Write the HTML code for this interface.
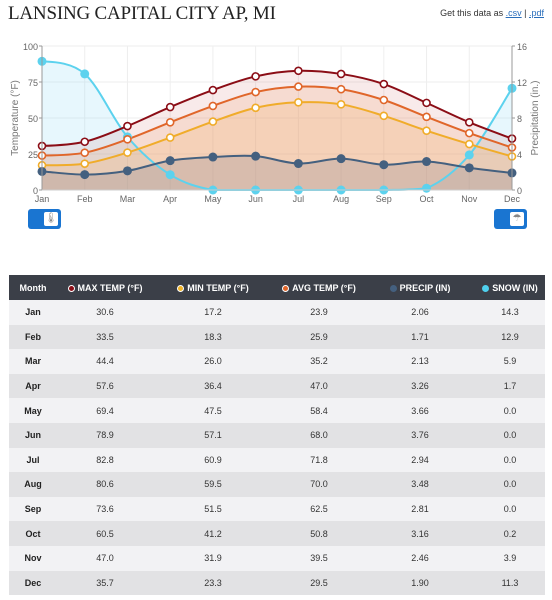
<!DOCTYPE html>
<html><head><meta charset="utf-8">
<style>
body{margin:0;width:552px;height:600px;background:#fff;font-family:"Liberation Sans",sans-serif;overflow:hidden;position:relative}
#title{position:absolute;left:8px;top:3px;font-family:"Liberation Serif",serif;font-size:19px;color:#222;letter-spacing:-0.2px}
#getdata{position:absolute;right:8px;top:8px;font-size:9px;color:#333}
#getdata a{color:#2a6ebb;text-decoration:underline}
svg{position:absolute;left:0;top:0}
.btn{position:absolute;top:209px;width:33px;height:20px;background:#1a75d1;border-radius:3px}
.btn i{position:absolute;right:3px;top:3px;width:14px;height:14px;background:#fff;border-radius:2px;font-style:normal;font-size:10px;color:#888;text-align:center;line-height:14px}
table{position:absolute;left:9px;top:275px;width:536px;border-collapse:collapse;font-size:9px;table-layout:fixed}
th{background:#3b3f48;color:#fff;height:25px;font-weight:bold;text-align:center;padding:0;white-space:nowrap}
td{height:24.6px;text-align:center;padding:0;color:#333}
td.m{font-weight:bold;color:#222}
tr:nth-child(odd) td{background:#f2f2f4}
tr:nth-child(even) td{background:#e2e2e4}
.dot{display:inline-block;width:7px;height:7px;border-radius:50%;margin-right:3px;vertical-align:-1px}
</style></head><body>
<div id="title">LANSING CAPITAL CITY AP, MI</div>
<div id="getdata">Get this data as <a>.csv</a> | <a>.pdf</a></div>
<svg id="chart" width="552" height="240"></svg>
<div class="btn" style="left:28px"><i>🌡</i></div>
<div class="btn" style="left:494px"><i>☂</i></div>
<table>
<colgroup><col style="width:48px"><col style="width:96px"><col style="width:120px"><col style="width:92px"><col style="width:110px"><col style="width:70px"></colgroup>
<thead><tr>
<th>Month</th>
<th><span class="dot" style="background:#8b0d16;border:1px solid #fff;width:5px;height:5px"></span>MAX TEMP (°F)</th>
<th><span class="dot" style="background:#f0b429;border:1px solid #fff;width:5px;height:5px"></span>MIN TEMP (°F)</th>
<th><span class="dot" style="background:#e0662a;border:1px solid #fff;width:5px;height:5px"></span>AVG TEMP (°F)</th>
<th><span class="dot" style="background:#44607f"></span>PRECIP (IN)</th>
<th><span class="dot" style="background:#4fd0ee"></span>SNOW (IN)</th>
</tr></thead><tbody id="tb"></tbody></table>
<script>
const months=["Jan","Feb","Mar","Apr","May","Jun","Jul","Aug","Sep","Oct","Nov","Dec"];
const maxT=[30.6,33.5,44.4,57.6,69.4,78.9,82.8,80.6,73.6,60.5,47.0,35.7];
const minT=[17.2,18.3,26.0,36.4,47.5,57.1,60.9,59.5,51.5,41.2,31.9,23.3];
const avgT=[23.9,25.9,35.2,47.0,58.4,68.0,71.8,70.0,62.5,50.8,39.5,29.5];
const precip=[2.06,1.71,2.13,3.26,3.66,3.76,2.94,3.48,2.81,3.16,2.46,1.90];
const snow=[14.3,12.9,5.9,1.7,0.0,0.0,0.0,0.0,0.0,0.2,3.9,11.3];
const leftTicks=[0,25,50,75,100];
const rightTicks=[0,4,8,12,16];
const X0=42,X1=512,Y0=190,Y1=46;
const xs=i=>X0+i*(X1-X0)/11;
const yL=v=>Y0-v/100*(Y0-Y1);
const yR=v=>Y0-v/16*(Y0-Y1);
const NS="http://www.w3.org/2000/svg";
const svg=document.getElementById('chart');
function mk(t,a,p){const e=document.createElementNS(NS,t);for(const k in a)e.setAttribute(k,a[k]);(p||svg).appendChild(e);return e;}
function path(pts){let d="M"+pts[0][0]+","+pts[0][1];for(let i=0;i<pts.length-1;i++){const p0=pts[i-1]||pts[i],p1=pts[i],p2=pts[i+1],p3=pts[i+2]||p2;const t=0.17;
let c1x=p1[0]+(p2[0]-p0[0])*t,c1y=p1[1]+(p2[1]-p0[1])*t,c2x=p2[0]-(p3[0]-p1[0])*t,c2y=p2[1]-(p3[1]-p1[1])*t;
c1y=Math.min(c1y,Y0);c2y=Math.min(c2y,Y0);
if(i===0){c1y=p1[1]+(c1y-p1[1])*0.3;}
d+=` C${c1x},${c1y} ${c2x},${c2y} ${p2[0]},${p2[1]}`;}return d;}
for(let i=0;i<12;i++){const g=mk('line',{x1:xs(i),x2:xs(i),y1:Y1,y2:Y0,stroke:'#eee','stroke-width':1});}
leftTicks.forEach((v,i)=>{const g=mk('line',{x1:X0,x2:X1,y1:yL(v),y2:yL(v),stroke:'#eee'});
const t=mk('text',{x:X0-4,y:yL(v)+4,'text-anchor':'end','font-size':9,fill:'#666'});t.textContent=v;
const r=mk('text',{x:X1+5,y:yR(rightTicks[i])+4,'font-size':9,fill:'#666'});r.textContent=rightTicks[i];
mk('line',{x1:X0-3,x2:X0,y1:yL(v),y2:yL(v),stroke:'#999'});mk('line',{x1:X1,x2:X1+3,y1:yL(v),y2:yL(v),stroke:'#999'});});
const series=[
 {n:'snow',d:snow,y:yR,c:'#5cd2ee',f:'rgba(120,210,245,0.18)',hollow:false},
 {n:'max-temp',d:maxT,y:yL,c:'#8b0d16',f:'rgba(200,80,80,0.12)',hollow:true},
 {n:'avg-temp',d:avgT,y:yL,c:'#e0662a',f:'rgba(235,140,80,0.16)',hollow:true},
 {n:'min-temp',d:minT,y:yL,c:'#f0ac2a',f:'rgba(245,180,110,0.25)',hollow:true},
 {n:'precip',d:precip,y:yR,c:'#44607f',f:'rgba(150,140,150,0.3)',hollow:false}];
const paths=series.map(s=>path(s.d.map((v,i)=>[xs(i),s.y(v)])));
series.forEach((s,k)=>{const a=mk('path',{d:paths[k]+` L${X1},${Y0} L${X0},${Y0} Z`,fill:s.f,stroke:'none'});});
series.forEach((s,k)=>{const l=mk('path',{d:paths[k],fill:'none',stroke:s.c,'stroke-width':2});});
series.forEach(s=>{s.d.forEach((v,i)=>{const c=mk('circle',s.hollow?{cx:xs(i),cy:s.y(v),r:3.5,fill:'#fff',stroke:s.c,'stroke-width':1.6}:{cx:xs(i),cy:s.y(v),r:4.5,fill:s.c});});});
mk('line',{x1:X0,x2:X0,y1:Y1,y2:Y0,stroke:'#999'});mk('line',{x1:X1,x2:X1,y1:Y1,y2:Y0,stroke:'#999'});mk('line',{x1:X0,x2:X1,y1:Y0,y2:Y0,stroke:'#ccc'});
months.forEach((m,i)=>{const t=mk('text',{x:xs(i),y:202,'text-anchor':'middle','font-size':9,fill:'#666'});t.textContent=m;});
let t=mk('text',{x:18,y:118,'text-anchor':'middle','font-size':10,fill:'#777',transform:'rotate(-90 18 118)'});t.textContent='Temperature (°F)';
t=mk('text',{x:538,y:118,'text-anchor':'middle','font-size':10,fill:'#777',transform:'rotate(-90 538 118)'});t.textContent='Precipitation (in.)';
const tb=document.getElementById('tb');
months.forEach((m,i)=>{const tr=document.createElement('tr');


tr.innerHTML=`<td class="m">${m}</td><td>${maxT[i].toFixed(1)}</td><td>${minT[i].toFixed(1)}</td><td>${avgT[i].toFixed(1)}</td><td>${precip[i].toFixed(2)}</td><td>${snow[i].toFixed(1)}</td>`;tb.appendChild(tr);});
</script>
</body></html>
